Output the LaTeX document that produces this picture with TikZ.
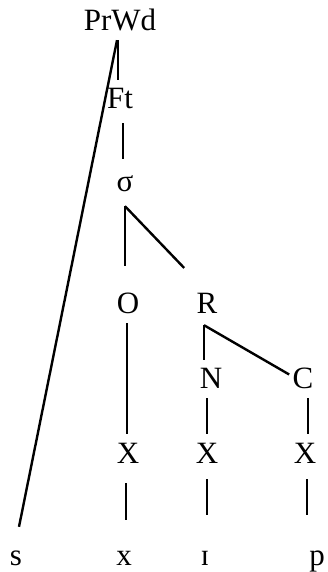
\documentclass[tikz,border=0pt]{standalone}
\usepackage{fontspec}
\setmainfont{Liberation Serif}
\begin{document}
\begin{tikzpicture}[x=1pt,y=-1pt]
		\tikzstyle{every node}=[font=\fontsize{31pt}{31pt}\selectfont, inner sep=0pt, anchor=base]
		\tikzstyle{branch}=[line width=2.4pt]
		\useasboundingbox (0,0) rectangle (327,572);
		
		\node [text height=21pt, text depth=9pt] (prwd) at (120,31) {PrWd};
		\node [text height=29pt, text depth=14pt] (ft) at (120,109) {Ft};
		\node [text height=32pt, text depth=15pt] (sigma) at (125,191) {σ};
		\node [text height=47pt, text depth=10pt] (onset) at (128,313) {O};
		\node [text height=21pt, text depth=12pt] (rime) at (207,313) {R};
		\node [text height=28pt, text depth=10pt] (nuc) at (211,388) {N};
		\node [text height=21pt, text depth=10pt] (coda) at (303,388) {C};
		\node [text height=29pt, text depth=20pt] (xo) at (128,463) {X};
		\node [text height=29pt, text depth=16pt] (xn) at (207,463) {X};
		\node [text height=29pt, text depth=16pt] (xc) at (305,463) {X};
		\node [text height=38pt] (ss) at (16,565) {s};
		\node [text height=45pt] (sx) at (124,565) {x};
		\node [text height=50pt] (si) at (205,565) {ɪ};
		\node [text height=50pt] (sp) at (317,565) {p};
		
		\draw [branch] ([xshift=-2pt]prwd.south) -- ([xshift=-2pt]ft.north);
		\draw [branch] ([xshift=-3pt]prwd.south) -- ([xshift=3pt]ss.north);
		\draw [branch] ([xshift=3pt]ft.south) -- ([xshift=-2pt]sigma.north);
		\draw [branch] (sigma.south) -- ([xshift=-3pt]onset.north);
		\draw [branch, shorten >=33pt] (sigma.south) -- (rime.north);
		\draw [branch] ([xshift=-1pt]onset.south) -- ([xshift=-1pt]xo.north);
		\draw [branch] ([xshift=-3pt]rime.south) -- ([xshift=-7pt]nuc.north);
		\draw [branch, shorten >=16pt] ([xshift=-3pt]rime.south) -- (coda.center);
		\draw [branch] ([xshift=-4pt]nuc.south) -- (xn.north);
		\draw [branch] ([xshift=5pt]coda.south) -- ([xshift=3pt]xc.north);
		\draw [branch] ([xshift=-2pt]xo.south) -- ([xshift=2pt]sx.north);
		\draw [branch] (xn.south) -- ([xshift=2pt]si.north);
		\draw [branch] ([xshift=2pt]xc.south) -- ([xshift=-10pt]sp.north);
	\end{tikzpicture}
\end{document}
